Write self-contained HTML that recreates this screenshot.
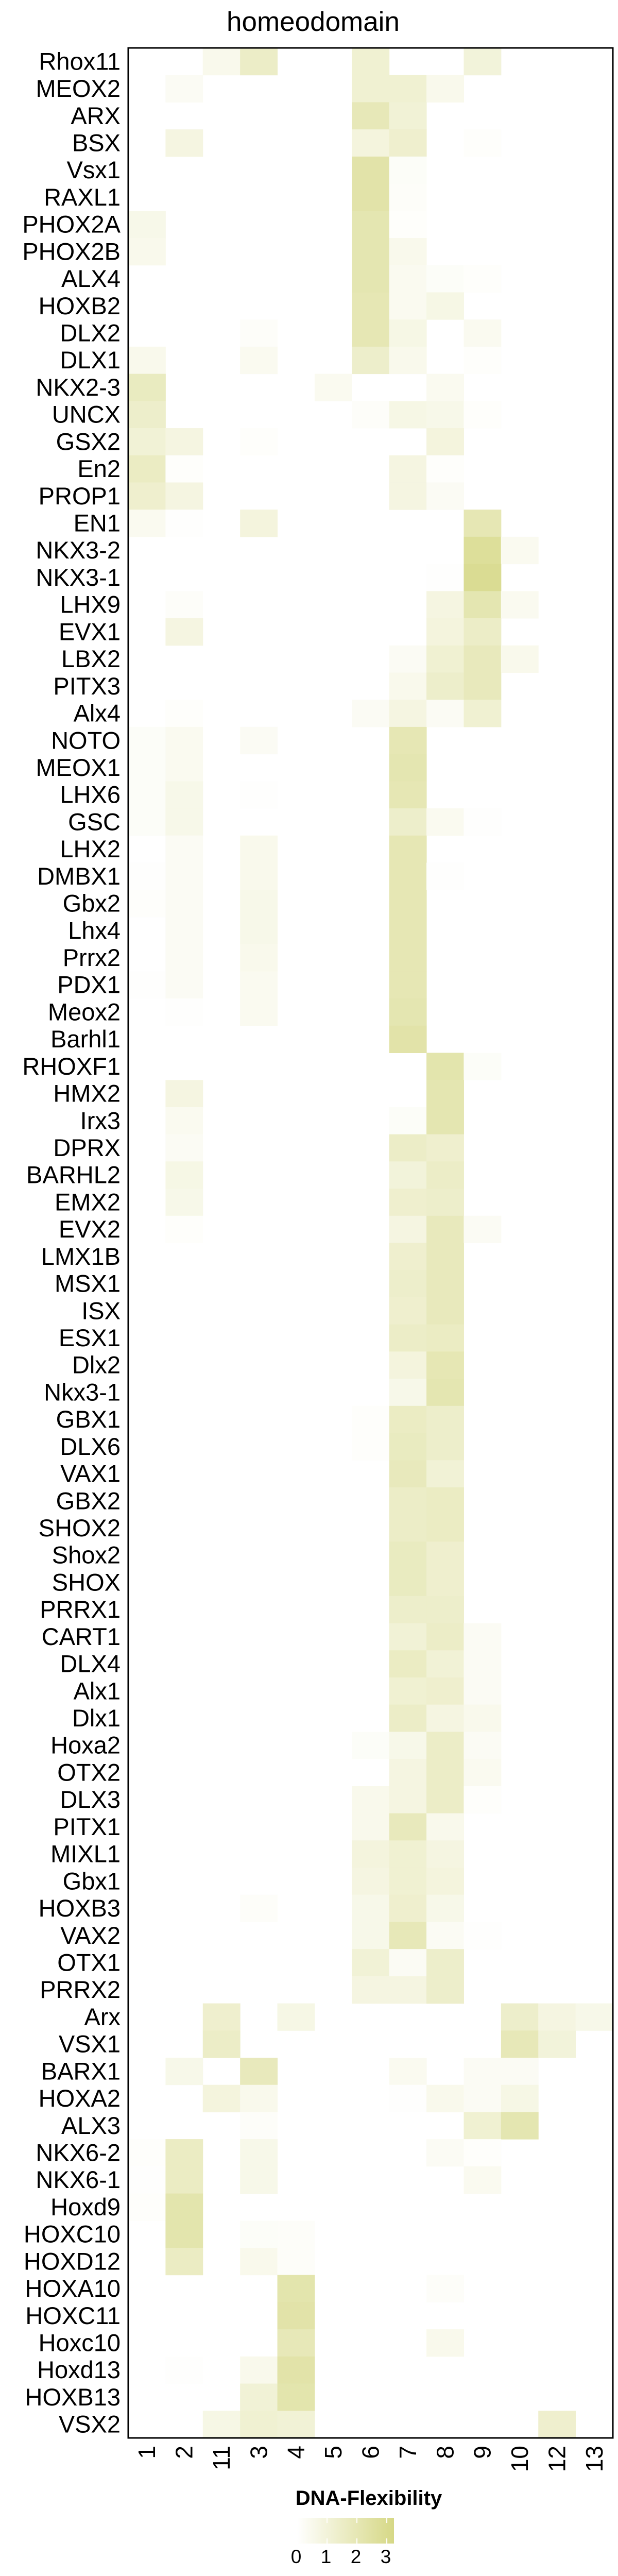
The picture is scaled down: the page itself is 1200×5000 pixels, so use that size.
<!DOCTYPE html>
<html><head><meta charset="utf-8"><style>
html,body{margin:0;padding:0;background:#fff;}
svg{display:block;font-family:"Liberation Sans",sans-serif;}
</style></head><body>
<svg id="chart" width="1200" height="5000" viewBox="0 0 1200 5000">
<defs>
<linearGradient id="lg" x1="0" x2="1" y1="0" y2="0">
<stop offset="0" stop-color="#ffffff"/><stop offset="1" stop-color="#d6d886"/>
</linearGradient>
</defs>
<text x="608" y="60" font-size="53" text-anchor="middle">homeodomain</text>
<g id="cells"></g>
<g id="ylabels"></g>
<g id="xlabels"></g>
<rect x="249" y="93" width="941" height="4639" fill="none" stroke="#000" stroke-width="3"/>
<g>
<text x="716" y="4862" font-size="40" font-weight="bold" text-anchor="middle">DNA-Flexibility</text>
<rect id="lbar" x="577" y="4887" width="188" height="50" fill="url(#lg)"/>
<g id="lticks"></g>
</g>
</svg>
<script>
const columns = ["1","2","11","3","4","5","6","7","8","9","10","12","13"];
const rows = ["Rhox11","MEOX2","ARX","BSX","Vsx1","RAXL1","PHOX2A","PHOX2B","ALX4","HOXB2","DLX2","DLX1","NKX2-3","UNCX","GSX2","En2","PROP1","EN1","NKX3-2","NKX3-1","LHX9","EVX1","LBX2","PITX3","Alx4","NOTO","MEOX1","LHX6","GSC","LHX2","DMBX1","Gbx2","Lhx4","Prrx2","PDX1","Meox2","Barhl1","RHOXF1","HMX2","Irx3","DPRX","BARHL2","EMX2","EVX2","LMX1B","MSX1","ISX","ESX1","Dlx2","Nkx3-1","GBX1","DLX6","VAX1","GBX2","SHOX2","Shox2","SHOX","PRRX1","CART1","DLX4","Alx1","Dlx1","Hoxa2","OTX2","DLX3","PITX1","MIXL1","Gbx1","HOXB3","VAX2","OTX1","PRRX2","Arx","VSX1","BARX1","HOXA2","ALX3","NKX6-2","NKX6-1","Hoxd9","HOXC10","HOXD12","HOXA10","HOXC11","Hoxc10","Hoxd13","HOXB13","VSX2"];
// values per row, in column order [1,2,11,3,4,5,6,7,8,9,10,12,13]
const values = [
[0,0,0.5,1.5,0,0,1.2,0,0,1.0,0,0,0],
[0,0.3,0,0,0,0,1.2,1.2,0.5,0,0,0,0],
[0,0,0,0,0,0,1.9,1.1,0,0,0,0,0],
[0,0.8,0,0,0,0,0.9,1.3,0,0.1,0,0,0],
[0,0,0,0,0,0,2.3,0.2,0,0,0,0,0],
[0,0,0,0,0,0,2.3,0.15,0,0,0,0,0],
[0.6,0,0,0,0,0,2.1,0.1,0,0,0,0,0],
[0.5,0,0,0,0,0,2.1,0.5,0,0,0,0,0],
[0,0,0,0,0,0,2.1,0.4,0.2,0.1,0,0,0],
[0,0,0,0,0,0,2.0,0.4,0.7,0,0,0,0],
[0,0,0,0.15,0,0,2.0,0.7,0,0.4,0,0,0],
[0.5,0,0,0.4,0,0,1.4,0.5,0,0.1,0,0,0],
[1.7,0,0,0,0,0.4,0,0,0.4,0,0,0,0],
[1.4,0,0,0,0,0,0.15,0.7,0.6,0.1,0,0,0],
[1.1,0.8,0,0.1,0,0,0,0,0.9,0,0,0,0],
[1.6,0.1,0,0,0,0,0,0.8,0.1,0,0,0,0],
[1.3,0.8,0,0,0,0,0,0.8,0.3,0,0,0,0],
[0.4,0.05,0,0.9,0,0,0,0,0,2.0,0,0,0],
[0,0,0,0,0,0,0,0,0,2.7,0.4,0,0],
[0,0,0,0,0,0,0,0,0.05,2.9,0,0,0],
[0,0.15,0,0,0,0,0,0,0.8,2.1,0.4,0,0],
[0,0.8,0,0,0,0,0,0,0.9,1.5,0,0,0],
[0,0,0,0,0,0,0,0.3,1.2,1.8,0.5,0,0],
[0,0,0,0,0,0,0,0.5,1.4,1.8,0,0,0],
[0,0.1,0,0,0,0,0.3,0.8,0.3,1.2,0,0,0],
[0.2,0.4,0,0.3,0,0,0,2.0,0,0,0,0,0],
[0.2,0.4,0,0,0,0,0,2.1,0,0,0,0,0],
[0.2,0.6,0,0.05,0,0,0,2.0,0,0,0,0,0],
[0.2,0.6,0,0,0,0,0,1.4,0.4,0.05,0,0,0],
[0,0.3,0,0.5,0,0,0,2.0,0,0,0,0,0],
[0.05,0.3,0,0.5,0,0,0,2.0,0.05,0,0,0,0],
[0.1,0.3,0,0.6,0,0,0,2.0,0,0,0,0,0],
[0,0.3,0,0.6,0,0,0,2.0,0,0,0,0,0],
[0,0.3,0,0.5,0,0,0,2.0,0,0,0,0,0],
[0.05,0.3,0,0.4,0,0,0,2.0,0,0,0,0,0],
[0,0.05,0,0.4,0,0,0,2.1,0,0,0,0,0],
[0,0,0,0,0,0,0,2.3,0,0,0,0,0],
[0,0,0,0,0,0,0,0,2.2,0.2,0,0,0],
[0,0.8,0,0,0,0,0,0,2.1,0,0,0,0],
[0,0.4,0,0,0,0,0,0.2,2.1,0,0,0,0],
[0,0.3,0,0,0,0,0,1.5,1.3,0,0,0,0],
[0,0.7,0,0,0,0,0,1.0,1.5,0,0,0,0],
[0,0.6,0,0,0,0,0,1.3,1.4,0,0,0,0],
[0,0.1,0,0,0,0,0,0.8,1.8,0.3,0,0,0],
[0,0,0,0,0,0,0,1.3,1.8,0,0,0,0],
[0,0,0,0,0,0,0,1.4,1.8,0,0,0,0],
[0,0,0,0,0,0,0,1.3,1.8,0,0,0,0],
[0,0,0,0,0,0,0,1.5,1.6,0,0,0,0],
[0,0,0,0,0,0,0,0.9,2.0,0,0,0,0],
[0,0,0,0,0,0,0,0.6,2.1,0,0,0,0],
[0,0,0,0,0,0,0.1,1.6,1.4,0,0,0,0],
[0,0,0,0,0,0,0.1,1.7,1.4,0,0,0,0],
[0,0,0,0,0,0,0,1.8,1.1,0,0,0,0],
[0,0,0,0,0,0,0,1.5,1.6,0,0,0,0],
[0,0,0,0,0,0,0,1.5,1.6,0,0,0,0],
[0,0,0,0,0,0,0,1.7,1.3,0,0,0,0],
[0,0,0,0,0,0,0,1.7,1.3,0,0,0,0],
[0,0,0,0,0,0,0,1.4,1.4,0,0,0,0],
[0,0,0,0,0,0,0,1.1,1.5,0.3,0,0,0],
[0,0,0,0,0,0,0,1.6,1.1,0.3,0,0,0],
[0,0,0,0,0,0,0,1.2,1.3,0.3,0,0,0],
[0,0,0,0,0,0,0,1.5,0.8,0.5,0,0,0],
[0,0,0,0,0,0,0.2,0.6,1.5,0.3,0,0,0],
[0,0,0,0,0,0,0,0.8,1.5,0.4,0,0,0],
[0,0,0,0,0,0,0.5,0.8,1.5,0.1,0,0,0],
[0,0,0,0,0,0,0.5,1.8,0.5,0,0,0,0],
[0,0,0,0,0,0,0.9,1.2,0.8,0,0,0,0],
[0,0,0,0,0,0,0.8,1.2,0.9,0,0,0,0],
[0,0,0,0.15,0,0,0.6,1.3,0.6,0,0,0,0],
[0,0,0,0,0,0,0.6,1.9,0.3,0.05,0,0,0],
[0,0,0,0,0,0,1.1,0.3,1.4,0,0,0,0],
[0,0,0,0,0,0,0.8,0.8,1.4,0,0,0,0],
[0,0,1.3,0,0.7,0,0,0,0,0,1.4,0.8,0.6],
[0,0,1.5,0,0,0,0,0,0,0,1.9,1.0,0],
[0,0.6,0,1.8,0,0,0,0.4,0,0.3,0.3,0,0],
[0,0,0.9,0.5,0,0,0,0.05,0.5,0.3,0.7,0,0],
[0,0,0,0.15,0,0,0,0,0,1.2,2.1,0,0],
[0.1,1.6,0,0.6,0,0,0,0,0.3,0.1,0,0,0],
[0.05,1.6,0,0.6,0,0,0,0,0,0.4,0,0,0],
[0.1,2.2,0,0,0,0,0,0,0,0,0,0,0],
[0,2.2,0,0.2,0.15,0,0,0,0,0,0,0,0],
[0,1.6,0,0.5,0.15,0,0,0,0,0,0,0,0],
[0,0,0,0,2.2,0,0,0,0.15,0,0,0,0],
[0,0,0,0,2.3,0,0,0,0,0,0,0,0],
[0,0,0,0,1.9,0,0,0,0.5,0,0,0,0],
[0,0.05,0,0.5,2.3,0,0,0,0,0,0,0,0],
[0,0,0,1.1,2.2,0,0,0,0,0,0,0,0],
[0,0,0.7,1.2,1.1,0,0,0,0,0,0,1.3,0]
];
const legendTicks = [0,1,2,3];
const legendMax = 3.24;

const NS = "http://www.w3.org/2000/svg";
const X0 = 249, X1 = 1190, Y0 = 93, Y1 = 4732;
const cw = (X1 - X0) / columns.length, rh = (Y1 - Y0) / rows.length;
function xPos(i){ return X0 + i * cw; }
function yPos(j){ return Y0 + j * rh; }
function color(v){
  const t = Math.max(0, Math.min(1, v / legendMax));
  const r = Math.round(255 - t * (255 - 214));
  const g = Math.round(255 - t * (255 - 216));
  const b = Math.round(255 - t * (255 - 134));
  return "rgb(" + r + "," + g + "," + b + ")";
}
const cells = document.getElementById("cells");
values.forEach((row, j) => {
  row.forEach((v, i) => {
    if (v <= 0) return;
    const r = document.createElementNS(NS, "rect");
    r.setAttribute("x", xPos(i));
    r.setAttribute("y", yPos(j));
    r.setAttribute("width", cw + 0.5);
    r.setAttribute("height", rh + 0.5);
    r.setAttribute("fill", color(v));
    
    
    cells.appendChild(r);
  });
});
const yl = document.getElementById("ylabels");
rows.forEach((name, j) => {
  const t = document.createElementNS(NS, "text");
  t.setAttribute("x", 234);
  t.setAttribute("y", yPos(j) + rh / 2 + 16);
  t.setAttribute("font-size", "47");
  t.setAttribute("text-anchor", "end");
  t.textContent = name;
  
  
  yl.appendChild(t);
});
const xl = document.getElementById("xlabels");
columns.forEach((name, i) => {
  const cx = xPos(i) + cw / 2 + 16, cy = 4747;
  const t = document.createElementNS(NS, "text");
  t.setAttribute("x", cx);
  t.setAttribute("y", cy);
  t.setAttribute("font-size", "46");
  t.setAttribute("text-anchor", "end");
  t.setAttribute("transform", "rotate(-90 " + cx + " " + cy + ")");
  t.textContent = name;
  
  
  xl.appendChild(t);
});
const lt = document.getElementById("lticks");
const LB0 = 577, LBW = 188;
legendTicks.forEach(v => {
  const x = LB0 + v / legendMax * LBW;
  if (v > 0) {
    const l = document.createElementNS(NS, "line");
    l.setAttribute("x1", x); l.setAttribute("x2", x);
    l.setAttribute("y1", 4887); l.setAttribute("y2", 4897);
    l.setAttribute("stroke", "#fff"); l.setAttribute("stroke-width", "2");
    
    
    lt.appendChild(l);
    const l2 = l.cloneNode();
    l2.setAttribute("y1", 4927); l2.setAttribute("y2", 4937);
    
    
    lt.appendChild(l2);
  }
  const t = document.createElementNS(NS, "text");
  t.setAttribute("x", x - 2);
  t.setAttribute("y", 4975);
  t.setAttribute("font-size", "37");
  t.setAttribute("text-anchor", "middle");
  t.textContent = v;
  
  
  lt.appendChild(t);
});
</script>
</body></html>
